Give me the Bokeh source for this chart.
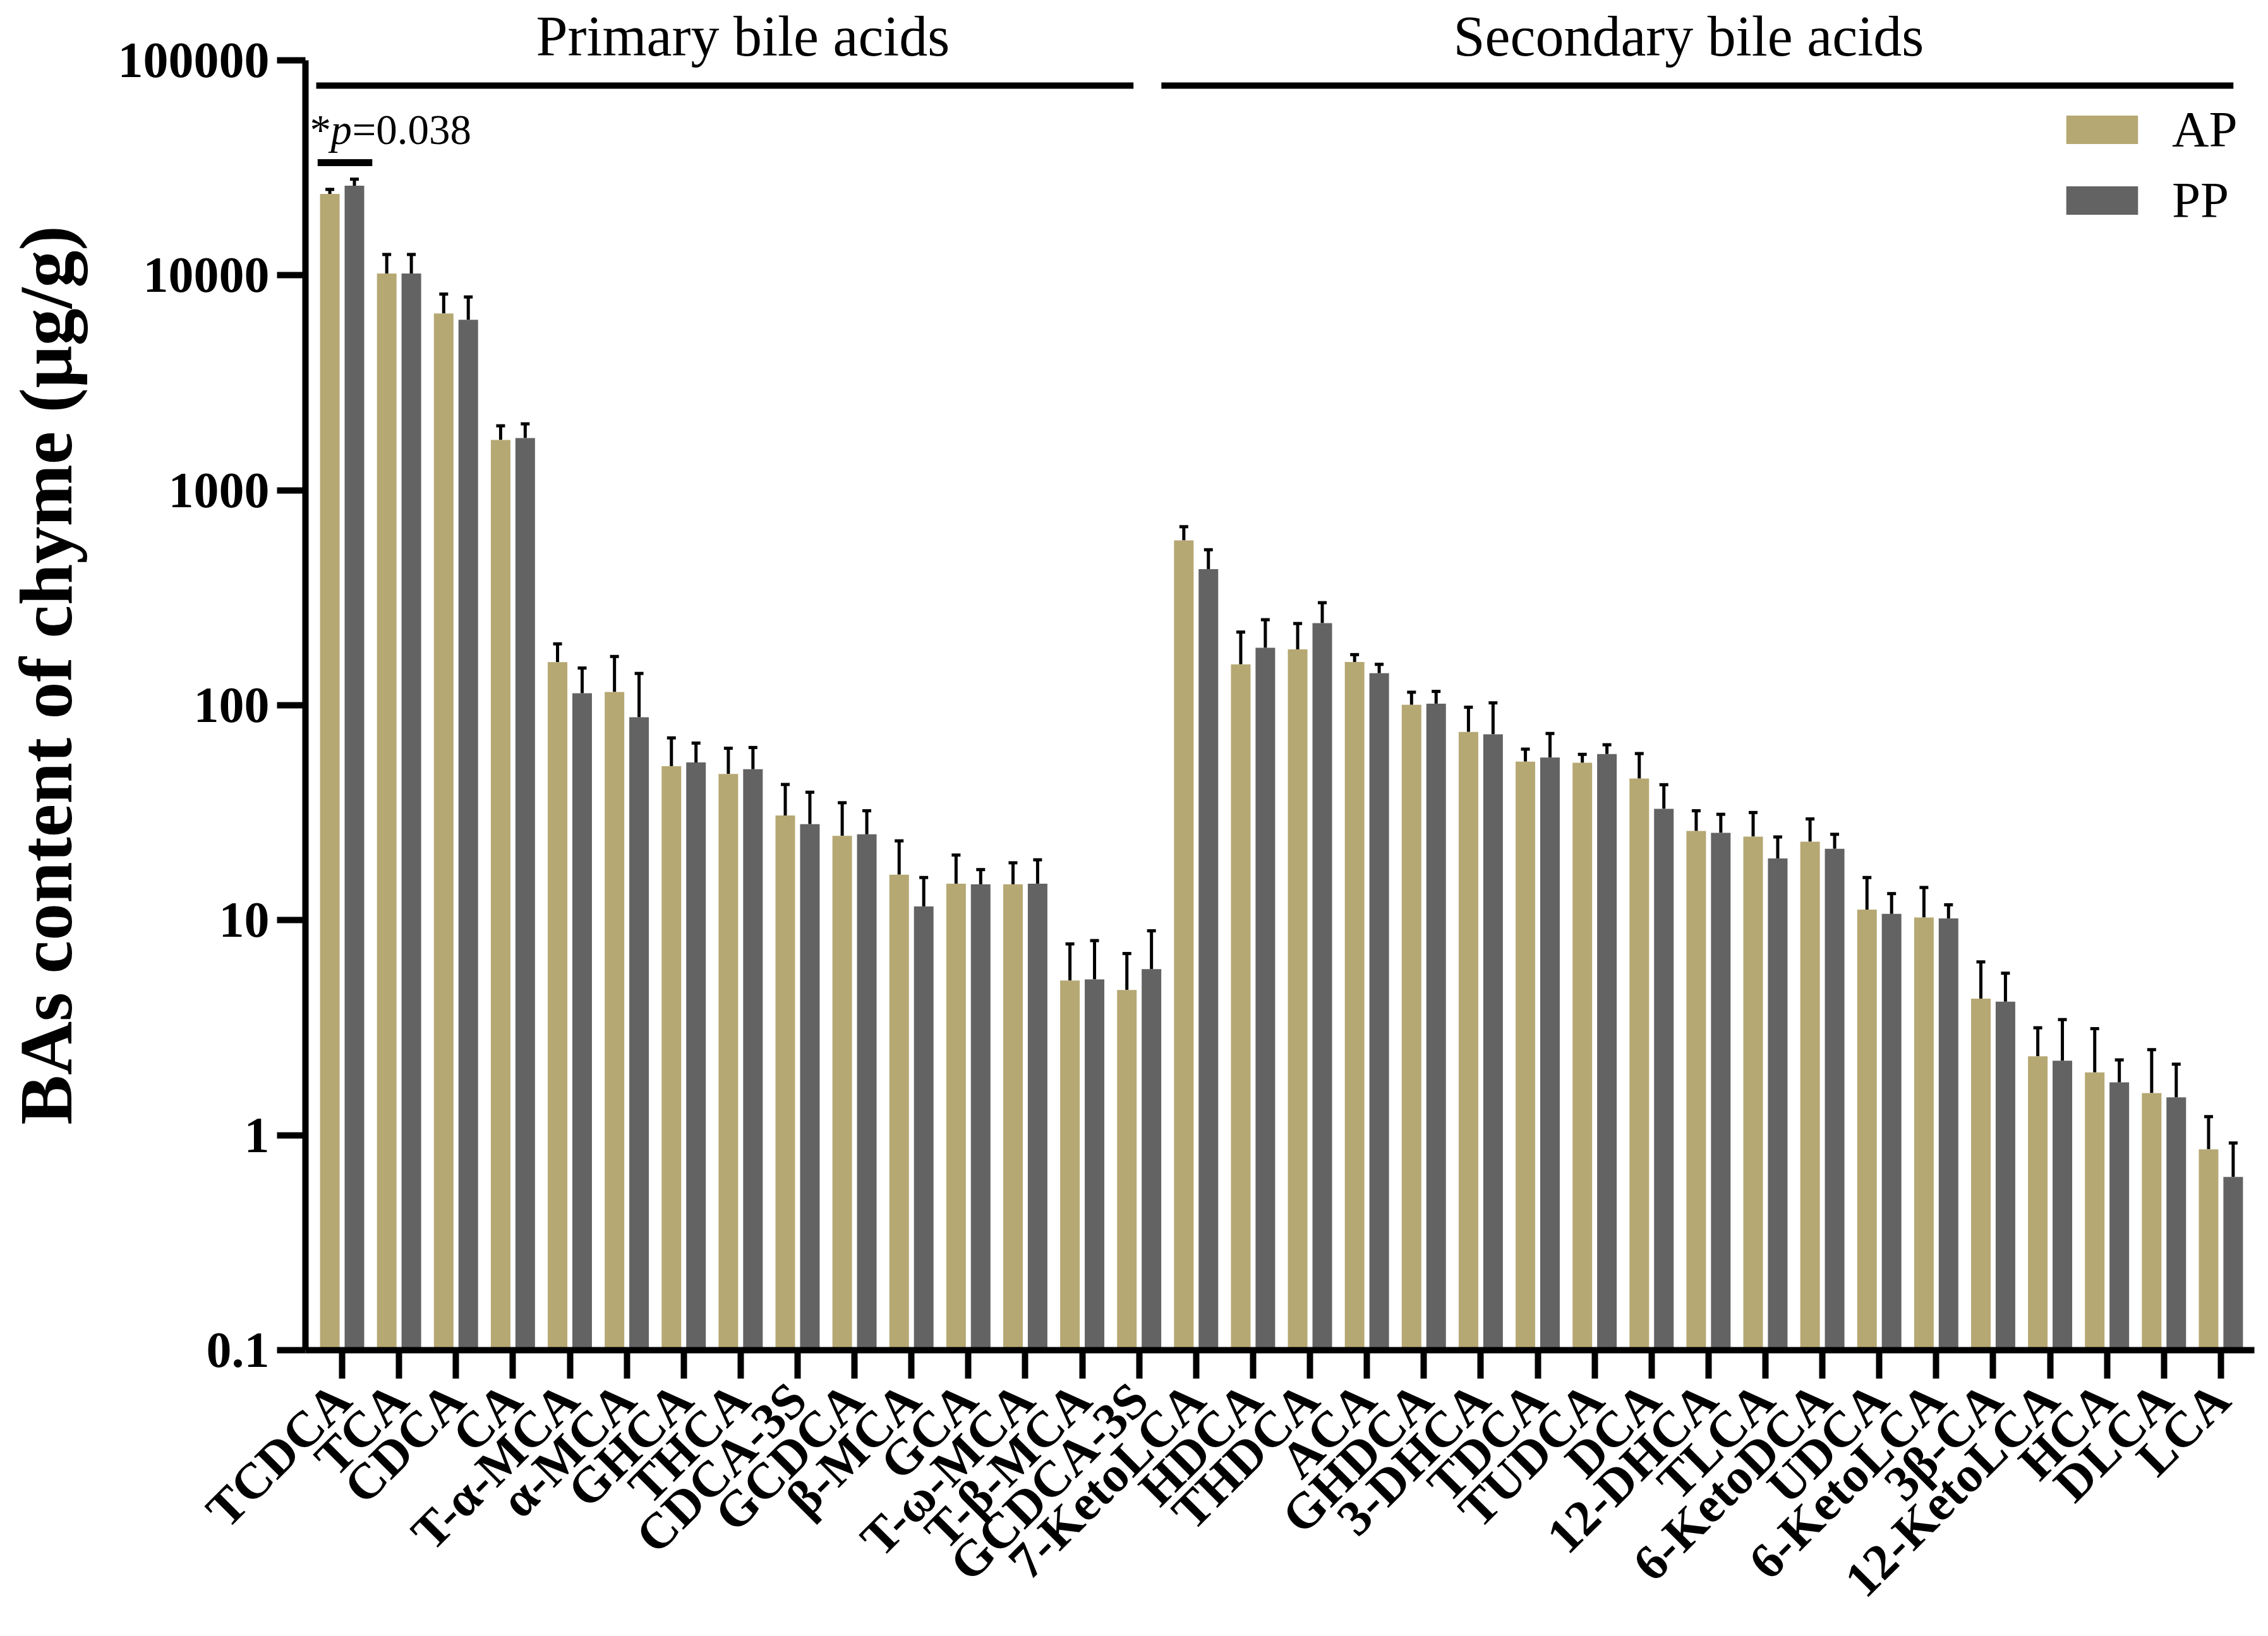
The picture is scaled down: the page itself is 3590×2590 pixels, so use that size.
import math
from bokeh.plotting import figure
from bokeh.models import (ColumnDataSource, FixedTicker, Whisker, TeeHead, Label,
                          Legend, LegendItem, Range1d)
from bokeh.embed import file_html
from bokeh.resources import INLINE

# ---------------- data ----------------
categories = ["TCDCA", "TCA", "CDCA", "CA", "T-α-MCA", "α-MCA", "GHCA", "THCA",
              "CDCA-3S", "GCDCA", "β-MCA", "GCA", "T-ω-MCA", "T-β-MCA", "GCDCA-3S",
              "7-KetoLCA", "HDCA", "THDCA", "ACA", "GHDCA", "3-DHCA", "TDCA", "TUDCA",
              "DCA", "12-DHCA", "TLCA", "6-KetoDCA", "UDCA", "6-KetoLCA", "3β-CA",
              "12-KetoLCA", "HCA", "DLCA", "LCA"]
ap_mean = [23900, 10200, 6650, 1715, 158.6, 115.3, 52.1, 47.9, 30.7, 24.7, 16.3, 14.8,
           14.7, 5.24, 4.74, 585, 155, 182, 159, 100.5, 75.2, 54.7, 54.0, 45.6, 26.0,
           24.5, 23.2, 11.2, 10.3, 4.32, 2.33, 1.96, 1.57, 0.86]
ap_sd = [1200, 2300, 1530, 280, 34.4, 53.3, 18.4, 15.2, 12.1, 10.5, 7.1, 5.3, 3.8, 2.52,
         2.26, 92, 64, 58, 13, 14.5, 22.7, 7.8, 5.1, 14.0, 6.3, 7.2, 6.4, 4.6, 3.9, 2.08,
         0.83, 1.17, 0.93, 0.36]
pp_mean = [26100, 10200, 6210, 1750, 113.7, 87.9, 54.2, 50.4, 28.0, 25.1, 11.6, 14.7,
           14.8, 5.31, 5.92, 430, 185, 241, 141, 101.8, 73.3, 57.1, 59.3, 33.0, 25.5,
           19.4, 21.5, 10.7, 10.2, 4.18, 2.22, 1.76, 1.50, 0.64]
pp_sd = [1900, 2300, 1720, 287, 35.3, 52.7, 12.5, 13.2, 11.4, 7.2, 4.2, 2.5, 4.3, 2.73,
         3.01, 99, 65, 59, 14, 14.2, 29.3, 16.8, 6.2, 9.7, 5.6, 5.0, 3.6, 2.6, 1.6, 1.49,
         1.23, 0.48, 0.64, 0.28]
groups = ["Primary bile acids", "Secondary bile acids"]
group_sizes = [15, 19]
y_ticks = [0.1, 1, 10, 100, 1000, 10000, 100000]
y_tick_labels = ["0.1", "1", "10", "100", "1000", "10000", "100000"]
series = ["AP", "PP"]
colors = ["#B6A873", "#636363"]
sig_index = 0
sig_text = ["*", "p", "=0.038"]

# ---------------- figure ----------------
FONT = "Liberation Serif"
n = len(categories)
off = 0.216
bw = 0.344

p = figure(width=3590, height=2590, output_backend="svg", toolbar_location=None,
           y_axis_type="log", x_range=Range1d(-0.644, 33.589),
           y_range=Range1d(0.1, 190200),
           min_border_left=483, min_border_right=22, min_border_top=0,
           min_border_bottom=453)
p.outline_line_color = None
p.grid.visible = False
p.background_fill_color = "white"
p.border_fill_color = "white"

src = ColumnDataSource(dict(
    x=list(range(n)),
    x_ap=[i - off for i in range(n)],
    x_pp=[i + off for i in range(n)],
    ap_mean=ap_mean, pp_mean=pp_mean,
    ap_upper=[m + s for m, s in zip(ap_mean, ap_sd)],
    pp_upper=[m + s for m, s in zip(pp_mean, pp_sd)],
))

r_ap = p.vbar(x="x_ap", top="ap_mean", bottom=0.1, width=bw, source=src,
              fill_color=colors[0], line_color=None)
r_pp = p.vbar(x="x_pp", top="pp_mean", bottom=0.1, width=bw, source=src,
              fill_color=colors[1], line_color=None)

for base, lo, up in [("x_ap", "ap_mean", "ap_upper"), ("x_pp", "pp_mean", "pp_upper")]:
    w = Whisker(source=src, base=base, lower=lo, upper=up, dimension="height",
                line_width=5, line_color="black",
                upper_head=TeeHead(size=14, line_width=5, line_color="black"),
                lower_head=None)
    p.add_layout(w)

# group brackets and titles
bracket_y = 76300
starts = [0, group_sizes[0]]
ends = [group_sizes[0] - 1, n - 1]
bx0 = [starts[0] - 0.455, starts[1] - 0.61]
bx1 = [ends[0] - 0.10, ends[1] + 0.22]
p.segment(x0=bx0, x1=bx1, y0=[bracket_y] * 2, y1=[bracket_y] * 2,
          line_width=10, line_color="black", line_cap="butt")
title_x = [7.04, 23.65]
for gx, gt in zip(title_x, groups):
    p.add_layout(Label(x=gx, y=129300, text=gt, text_align="center",
                       text_baseline="alphabetic", text_font=FONT,
                       text_font_size="90px", text_color="black"))

# significance
sig_y = 33420
p.segment(x0=[sig_index - 0.43], x1=[sig_index + 0.53], y0=[sig_y], y1=[sig_y],
          line_width=11, line_color="black", line_cap="butt")
sx = [sig_index - 0.566, sig_index - 0.200, sig_index + 0.177]
styles = ["normal", "italic", "normal"]
for xx, tt, st in zip(sx, sig_text, styles):
    p.add_layout(Label(x=xx, y=47830, text=tt, text_align="left",
                       text_baseline="alphabetic", text_font=FONT,
                       text_font_style=st, text_font_size="67px",
                       text_color="black"))

# axes
for ax in (p.xaxis[0], p.yaxis[0]):
    ax.axis_line_width = 10
    ax.axis_line_color = "black"
    ax.major_tick_line_width = 10
    ax.major_tick_line_color = "black"
    ax.major_tick_out = 45
    ax.major_tick_in = 0
    ax.minor_tick_out = 0
    ax.minor_tick_in = 0
    ax.major_label_text_font = FONT
    ax.major_label_text_font_style = "bold"
    ax.major_label_text_font_size = "80px"
    ax.major_label_text_color = "black"

p.yaxis.bounds = (0.1, 100000)
p.yaxis.ticker = FixedTicker(ticks=y_ticks, minor_ticks=[])
p.yaxis.major_label_overrides = {(float(t) if t < 1 else int(t)): l
                                 for t, l in zip(y_ticks, y_tick_labels)}
p.yaxis.major_label_standoff = 12
p.yaxis.axis_label = "BAs content of chyme (μg/g)"
p.yaxis.axis_label_text_font = FONT
p.yaxis.axis_label_text_font_style = "bold"
p.yaxis.axis_label_text_font_size = "118px"
p.yaxis.axis_label_text_color = "black"
p.yaxis.axis_label_standoff = 45

p.xaxis.ticker = FixedTicker(ticks=list(range(n)), minor_ticks=[])
p.xaxis.major_label_overrides = {i: c for i, c in enumerate(categories)}
p.xaxis.major_label_orientation = math.pi / 4
p.xaxis.major_label_standoff = 20

legend = Legend(items=[LegendItem(label=series[0], renderers=[r_ap]),
                       LegendItem(label=series[1], renderers=[r_pp])],
                location=(2773, 1764), glyph_width=142, glyph_height=56,
                label_height=112, label_standoff=40, spacing=0, padding=0,
                margin=0, border_line_color=None, background_fill_alpha=0,
                label_text_font=FONT, label_text_font_size="81px",
                label_text_color="black")
p.add_layout(legend)

open("out.html", "w").write(file_html(p, INLINE))
